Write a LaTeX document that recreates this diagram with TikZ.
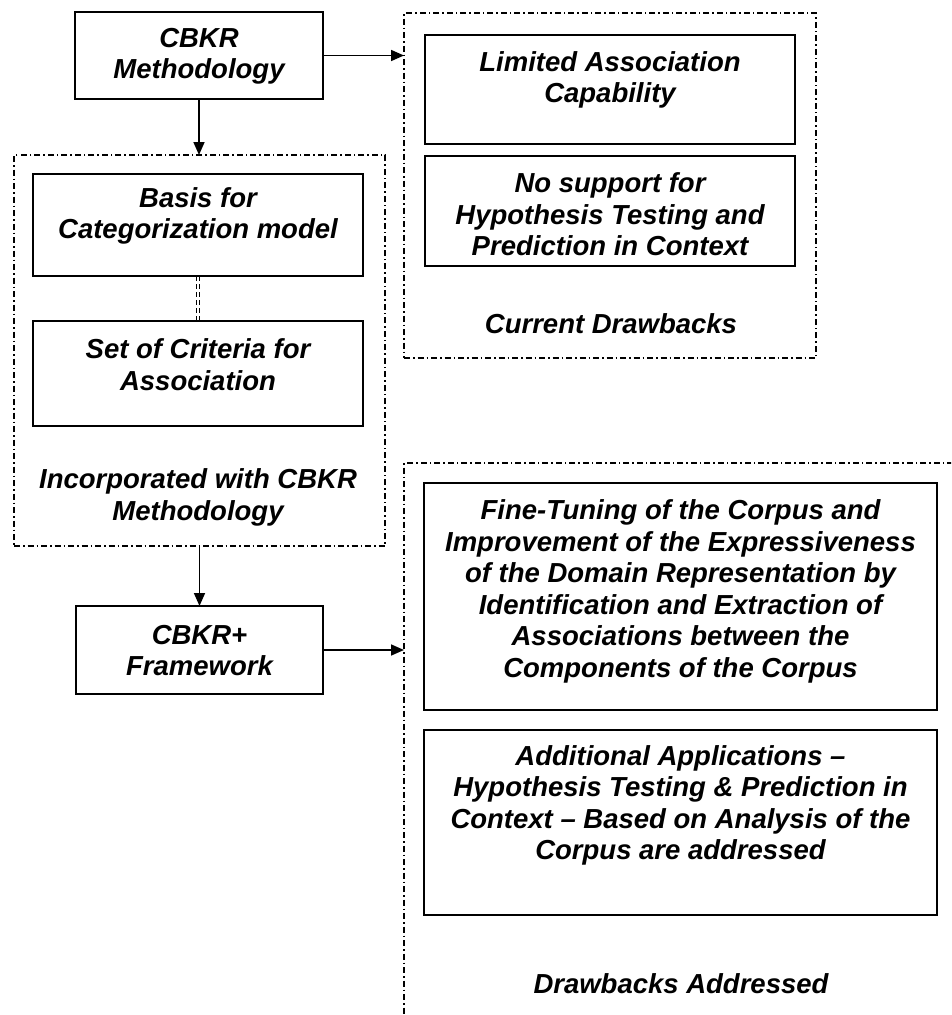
\documentclass[tikz,border=0pt]{standalone}
\usepackage{fontspec}
\setmainfont{Liberation Sans}
\usetikzlibrary{arrows.meta}
\begin{document}
\begin{tikzpicture}[x=1pt,y=-1pt,
  every node/.style={inner sep=0pt, outer sep=0pt},
  box/.style={draw, line width=1.7pt, rectangle},
  frame/.style={draw, line width=1.4pt, dash pattern=on 6pt off 3pt on 1.5pt off 3pt},
  txt/.style={align=center, font=\fontsize{27.5}{31.5}\selectfont\bfseries\itshape},
  flow/.style={line width=1.7pt, -{Triangle[length=13pt,width=11pt]}},
  link/.style={line width=1.2pt, dash pattern=on 5pt off 3pt}]
\useasboundingbox (0,0) rectangle (951,1015);
\clip (0,0) rectangle (951,1015);

% left column
\node[box, minimum width=248, minimum height=87] (meth) at (199,55.5) {};
\node[txt] (methtext) at (199,56) {CBKR\\Methodology};

\node[frame, minimum width=371, minimum height=391] (leftframe) at (199.5,350.5) {};
\node[box, minimum width=330, minimum height=102] (basis) at (198,225) {};
\node[txt] (basistext) at (198,216) {Basis for\\Categorization model};
\node[box, minimum width=330, minimum height=105] (set) at (198,373.5) {};
\node[txt] (settext) at (198,364.5) {Set of Criteria for\\Association};
\node[txt] (inctext) at (198,497.5) {Incorporated with CBKR\\Methodology};

\node[box, minimum width=247, minimum height=88] (plus) at (199.5,650) {};
\node[txt] (plustext) at (199.5,650.5) {CBKR+\\Framework};

% current drawbacks
\node[frame, minimum width=412, minimum height=345] (trframe) at (610,185.5) {};
\node[box, minimum width=370, minimum height=109] (limited) at (610,89.5) {};
\node[txt] (limitedtext) at (610,80) {Limited Association\\Capability};
\node[box, minimum width=370, minimum height=110] (nosupport) at (610,211) {};
\node[txt] (nosupporttext) at (610,214.5) {No support for\\Hypothesis Testing and\\Prediction in Context};
\node[txt] (curtext) at (611,324) {Current Drawbacks};

% drawbacks addressed
\node[frame, minimum width=553, minimum height=577] (brframe) at (680.5,751.5) {};
\node[box, minimum width=513, minimum height=227] (fine) at (680.5,596.5) {};
\node[txt] (finetext) at (680.5,591.5) {Fine-Tuning of the Corpus and\\Improvement of the Expressiveness\\of the Domain Representation by\\Identification and Extraction of\\Associations between the\\Components of the Corpus};
\node[box, minimum width=513, minimum height=185] (addl) at (680.5,822.5) {};
\node[txt] (addltext) at (680.5,805.5) {Additional Applications --\\Hypothesis Testing \& Prediction in\\Context -- Based on Analysis of the\\Corpus are addressed};
\node[txt] (addrtext) at (681,984) {Drawbacks Addressed};

% connectors
\draw[flow] (meth.east) -- (meth.east -| trframe.west);
\draw[flow] (meth.south) -- (meth.south |- leftframe.north);
\draw[flow] (leftframe.south) -- (leftframe.south |- plus.north);
\draw[flow] (plus.east) -- (plus.east -| brframe.west);
\draw[link] ([xshift=-1.6pt]basis.south) -- ([xshift=-1.6pt]set.north);
\draw[link] ([xshift=1.6pt]basis.south) -- ([xshift=1.6pt]set.north);
\end{tikzpicture}
\end{document}
